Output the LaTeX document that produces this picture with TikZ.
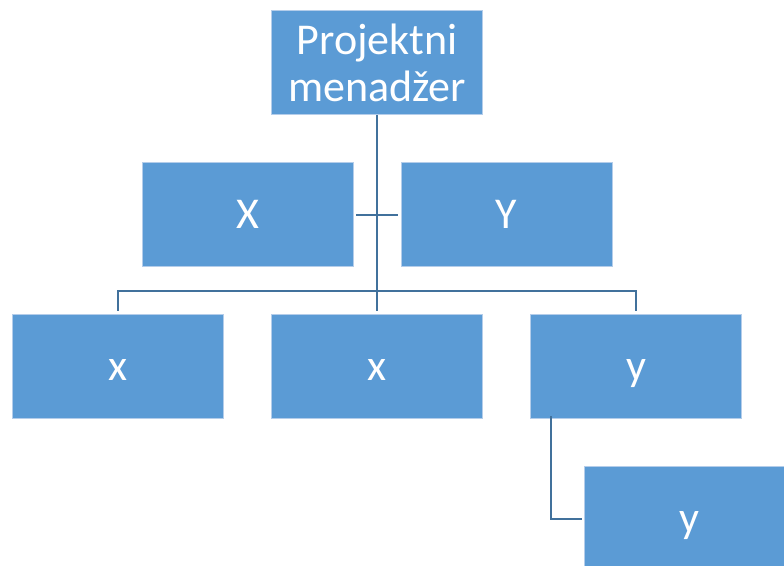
\documentclass[tikz,border=0pt]{standalone}
\usepackage{fontspec}
\setmainfont{Carlito}
\definecolor{boxfill}{HTML}{5B9BD5}
\definecolor{boxline}{HTML}{B4CDEA}
\definecolor{conn}{HTML}{41719C}
\begin{document}
\begin{tikzpicture}[x=1pt,y=-1pt,
  orgbox/.style={rectangle, fill=boxfill, draw=boxline, line width=0.6pt,
    minimum width=211pt, minimum height=104pt, inner sep=0pt,
    text=white, font=\fontsize{44}{47}\selectfont, align=center},
  letter/.style={orgbox, text height=27pt, text depth=0pt},
  link/.style={draw=conn, line width=2pt}]
\useasboundingbox (0,0) rectangle (784,565);
\node[orgbox] (top) at (377,62.5) {Projektni\\menad\v{z}er};
\node[letter] (X) at (247.5,214.5) {X};
\node[letter] (Y) at (506.5,214.5) {Y};
\node[letter] (b1) at (118,366.5) {x};
\node[letter] (b2) at (377,366.5) {x};
\node[letter] (b3) at (636,366.5) {y};
\node[letter] (b4) at (689.5,518.5) {y};
\coordinate (bus) at (377,291);
\coordinate (corner) at (551,518.5);
\draw[link] (top.south) -- (bus);
\draw[link, shorten <=3pt, shorten >=3pt] (X.east) -- (Y.west);
\draw[link, shorten >=3pt] (bus) -| (b1.north);
\draw[link, shorten >=3pt] (bus) -- (b2.north);
\draw[link, shorten >=3pt] (bus) -| (b3.north);
\draw[link] ([yshift=3pt] b3.south -| corner) -- (corner) -- ([xshift=-2pt] b4.west);
\end{tikzpicture}
\end{document}
